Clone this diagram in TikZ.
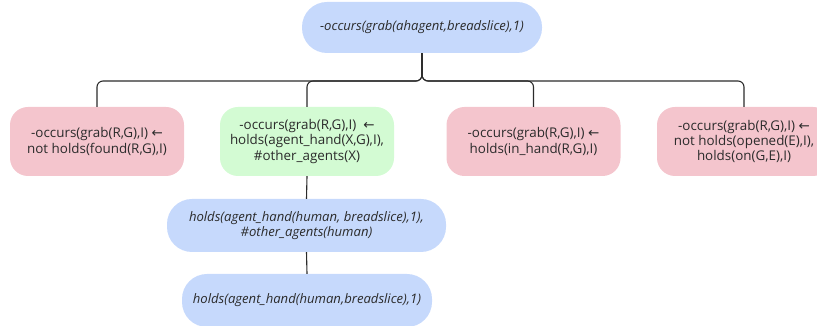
\documentclass[tikz,border=0pt]{standalone}
\usepackage{fontspec}
\setmainfont{Open Sans}
\newfontfamily\symfont{DejaVu Sans}
\definecolor{pillblue}{HTML}{C6D9FC}
\definecolor{rulered}{HTML}{F4C5CD}
\definecolor{rulegreen}{HTML}{D3FBD3}
\definecolor{inkgray}{HTML}{2B2B2B}
\newcommand{\larr}{{\symfont\char"2190}}
\begin{document}
\begin{tikzpicture}[x=1pt,y=1pt,
  base/.style={align=center, text=inkgray, inner sep=0pt,
    font=\fontsize{13.4}{15.2}\selectfont},
  goal/.style={base, fill=pillblue, rounded corners=25pt,
    font=\fontsize{13.1}{15.2}\selectfont\itshape},
  failrule/.style={base, fill=rulered, rounded corners=18pt,
    minimum width=174pt, minimum height=69pt},
  okrule/.style={base, fill=rulegreen, rounded corners=18pt,
    minimum width=174pt, minimum height=69pt},
  link/.style={draw=inkgray, line width=1.1pt, rounded corners=6pt}]
\useasboundingbox (0,0) rectangle (817,326);
\begin{scope}
\clip (0,0) rectangle (817,326);
% root goal
\node[goal, minimum width=240pt, minimum height=51pt] (root) at (422,298.5)
  {-occurs(grab(ahagent,breadslice),1)};
% candidate rules
\node[failrule] (r1) at (97,184.5)
  {-occurs(grab(R,G),I) \larr\\not holds(found(R,G),I)};
\node[okrule] (r2) at (307,184.5)
  {-occurs(grab(R,G),I)\ \ \larr\\holds(agent\_hand(X,G),I),\\\#other\_agents(X)};
\node[failrule] (r3) at (533.5,184.5)
  {-occurs(grab(R,G),I) \larr\\holds(in\_hand(R,G),I)};
\node[failrule] (r4) at (744,184.5)
  {-occurs(grab(R,G),I) \larr\\not holds(opened(E),I),\\holds(on(G,E),I)};
% subgoals
\node[goal, minimum width=279pt, minimum height=53pt] (g1) at (306.5,100.5)
  {holds(agent\_hand(human, breadslice),1),\\\#other\_agents(human)};
\node[goal, minimum width=250pt, minimum height=53pt] (g2) at (307,25.5)
  {holds(agent\_hand(human,breadslice),1)};
% tree connectors
\coordinate (bus) at (422,245);
\foreach \c in {r1,r2,r3,r4}
  \draw[link] (root.south) -- (bus) -| (\c.north);
\draw[link] (r2.south) -- (g1.north);
\draw[link] (g1.south) -- (g2.north);
\end{scope}
\end{tikzpicture}
\end{document}
